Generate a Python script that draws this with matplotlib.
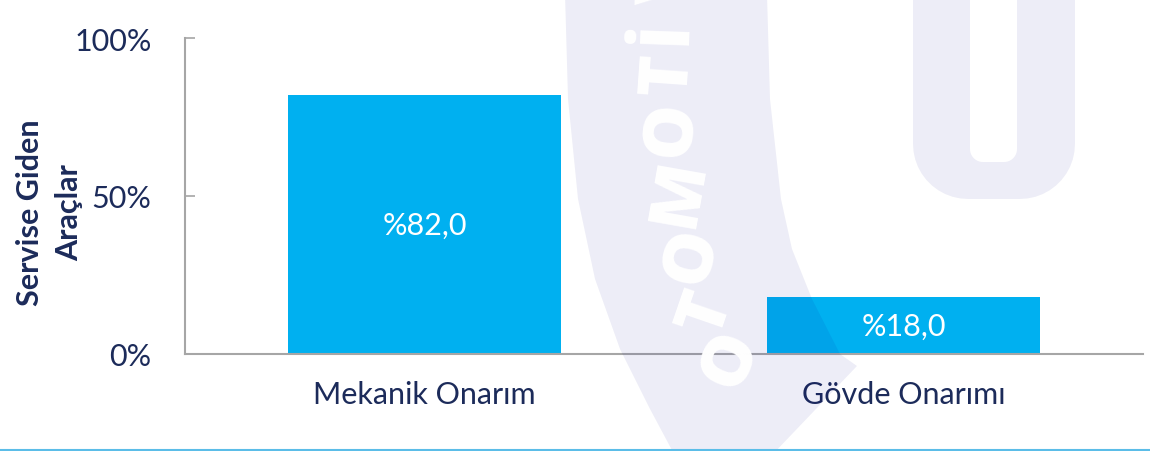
import numpy as np
import matplotlib
matplotlib.use("Agg")
from matplotlib import pyplot as plt
from matplotlib.patches import Polygon

# Datos
categorias = ["Mekanik Onarım", "Gövde Onarımı"]
valores = [82.0, 18.0]
yticks = [0, 50, 100]
ytick_labels = ["0%", "50%", "100%"]
etiqueta_y = "Servise Giden\nAraçlar"

azul = "#00B0F0"
texto = "#1C2B5A"
gris = "#A6A6A6"

plt.rcParams['font.family'] = ['Lato', 'DejaVu Sans']

fig = plt.figure(figsize=(11.5, 4.52), dpi=100)
ax = fig.add_axes([185 / 1150, 1 - 355 / 452, 958 / 1150, 316 / 452])

x = np.arange(len(categorias))
barras = ax.bar(x, valores, width=0.57, color=azul, zorder=2)
etiquetas = [f"%{v:.1f}".replace(".", ",") for v in valores]
ax.bar_label(barras, labels=etiquetas, label_type='center', color='white', fontsize=22)

ax.set_xlim(-0.5, 1.5)
ax.set_ylim(0, 100)
ax.set_xticks(x)
ax.set_xticklabels(categorias, fontsize=22, color=texto)
ax.set_yticks(yticks)
ax.set_yticklabels(ytick_labels, fontsize=22, color=texto)
ax.tick_params(axis='x', length=0, pad=19)
ax.tick_params(axis='y', direction='in', length=7, width=1.2, color=gris, pad=24)

for lado in ['top', 'right']:
    ax.spines[lado].set_visible(False)
for lado in ['left', 'bottom']:
    ax.spines[lado].set_color(gris)
    ax.spines[lado].set_linewidth(1.5)

ax.set_ylabel(etiqueta_y, fontsize=22, fontweight='bold', color=texto, linespacing=1.5)
ax.yaxis.set_label_coords(-0.106, 0.45)

# Marca de agua (superpuesta, en pixeles de la figura)
wm = fig.add_axes([0, 0, 1, 1], zorder=5)
wm.set_xlim(0, 1150)
wm.set_ylim(452, 0)
wm.axis('off')
wm.patch.set_alpha(0)

color_wm = (0.0, 0.0, 0.56)
alfa_wm = 0.07

izq = [(565, -5), (568, 100), (578, 200), (595, 280), (620, 350), (650, 410), (674, 455)]
der = [(767, -5), (770, 100), (781, 200), (792, 250), (812, 300), (840, 355), (857, 367)]
banda = izq + [(773, 455)] + der[::-1]
wm.add_patch(Polygon(banda, closed=True, facecolor=color_wm, alpha=alfa_wm, edgecolor='none'))

# letra U
def arco(cx, cy, r, a0, a1, n=12):
    t = np.radians(np.linspace(a0, a1, n))
    return [(cx + r * np.cos(s), cy + r * np.sin(s)) for s in t]

ext = [(913, -5)] + arco(968, 145, 55, 180, 90) + arco(1020, 145, 55, 90, 0) + [(1075, -5)]
inte = [(1017, -5)] + arco(1004, 150, 13, 0, 90) + arco(983, 150, 13, 90, 180) + [(970, -5)]
wm.add_patch(Polygon(ext + inte, closed=True, facecolor=color_wm, alpha=alfa_wm, edgecolor='none'))

# letras OTOMOTİV
letras = ["O", "T", "O", "M", "O", "T", "İ", "V"]
pos = [(731, 360, 66), (707, 314, 71), (692, 257, 76), (680, 193, 80),
       (672, 130, 84), (669, 75, 86), (667, 32, 88), (667, -18, 89)]
for l, (px, py, rot) in zip(letras, pos):
    wm.text(px, py, l, color='white', fontsize=50, fontweight='heavy', family='Open Sans',
            rotation=rot, ha='center', va='center', rotation_mode='anchor')

wm.plot([0, 1150], [451, 451], color='#5BBDE8', lw=1.5, solid_capstyle='butt')

fig.savefig("out.png", dpi=100)
